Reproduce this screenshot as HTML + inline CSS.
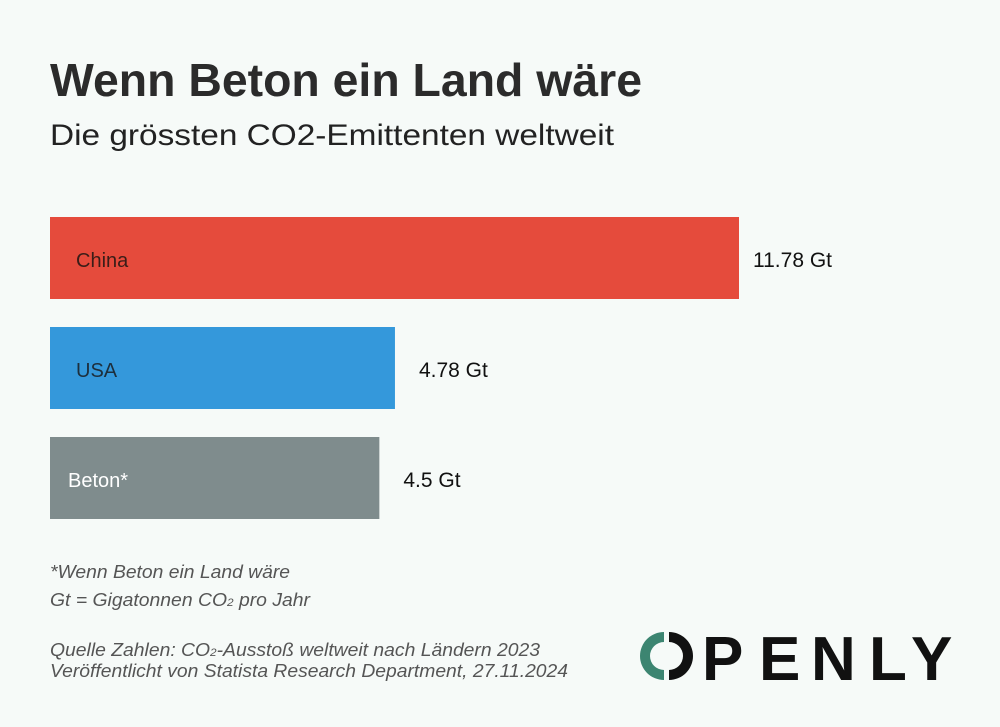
<!DOCTYPE html>
<html><head><meta charset="utf-8"><style>
html,body{margin:0;padding:0;background:#f6faf8;}
svg{display:block;font-family:"Liberation Sans",sans-serif;}
</style></head><body>
<svg id="chart" width="1000" height="727" viewBox="0 0 1000 727">
<rect width="1000" height="727" fill="#f6faf8"/>
<text x="50" y="96" font-size="46" font-weight="bold" fill="#2b2b2b" textLength="592" lengthAdjust="spacingAndGlyphs">Wenn Beton ein Land wäre</text>
<text x="50" y="145" font-size="30" fill="#222" textLength="564" lengthAdjust="spacingAndGlyphs">Die grössten CO2-Emittenten weltweit</text>
<g id="bars"></g>
<g font-style="italic" font-size="18" fill="#555">
<text x="50" y="578" textLength="240" lengthAdjust="spacingAndGlyphs">*Wenn Beton ein Land wäre</text>
<text x="50" y="606" textLength="260" lengthAdjust="spacingAndGlyphs">Gt = Gigatonnen CO<tspan font-size="11">2</tspan> pro Jahr</text>
<text x="50" y="656" textLength="490" lengthAdjust="spacingAndGlyphs">Quelle Zahlen: CO<tspan font-size="11">2</tspan>-Ausstoß weltweit nach Ländern 2023</text>
<text x="50" y="677" textLength="518" lengthAdjust="spacingAndGlyphs">Veröffentlicht von Statista Research Department, 27.11.2024</text>
</g>
<g>
<path d="M664 632 A24 24 0 0 0 664 680 L664 670 A14 14 0 0 1 664 642 Z" fill="#3c8571"/>
<path d="M669 632 A24 24 0 0 1 669 680 L669 670 A14 14 0 0 0 669 642 Z" fill="#111"/>
<g font-size="62" font-weight="bold" fill="#111">
<text x="702" y="680">P</text>
<text x="759" y="680">E</text>
<text x="811" y="680">N</text>
<text x="869" y="680">L</text>
<text x="911" y="680">Y</text>
</g>
</g>
</svg>
<script>
const categories=["China","USA","Beton*"];
const values=[11.78,4.78,4.5];
const valueLabels=["11.78 Gt","4.78 Gt","4.5 Gt"];
const colors=["#e54b3c","#3498db","#7f8c8d"];
const labelColors=["#3a1d18","#1d2f3d","#ffffff"];
const NS="http://www.w3.org/2000/svg";
const x0=50;
function xScale(v){return 689*Math.pow(v/11.78,0.767);}
function yPos(i){return 217+i*110;}
const g=document.getElementById('bars');
categories.forEach((c,i)=>{
  const w=xScale(values[i]),y=yPos(i);
  const r=document.createElementNS(NS,'rect');
  r.setAttribute('x',x0);r.setAttribute('y',y);r.setAttribute('width',w);r.setAttribute('height',82);r.setAttribute('fill',colors[i]);
  
  
  g.appendChild(r);
  const t=document.createElementNS(NS,'text');
  t.setAttribute('x',x0+(i==2?18:26));t.setAttribute('y',y+50);t.setAttribute('font-size','20');t.setAttribute('fill',labelColors[i]);
  t.textContent=c;
  
  
  g.appendChild(t);
  const v=document.createElementNS(NS,'text');
  v.setAttribute('x',x0+w+(i==0?14:24));v.setAttribute('y',y+50);v.setAttribute('font-size','21');v.setAttribute('fill','#111');
  v.textContent=valueLabels[i];
  
  
  g.appendChild(v);
});
</script>
</body></html>
